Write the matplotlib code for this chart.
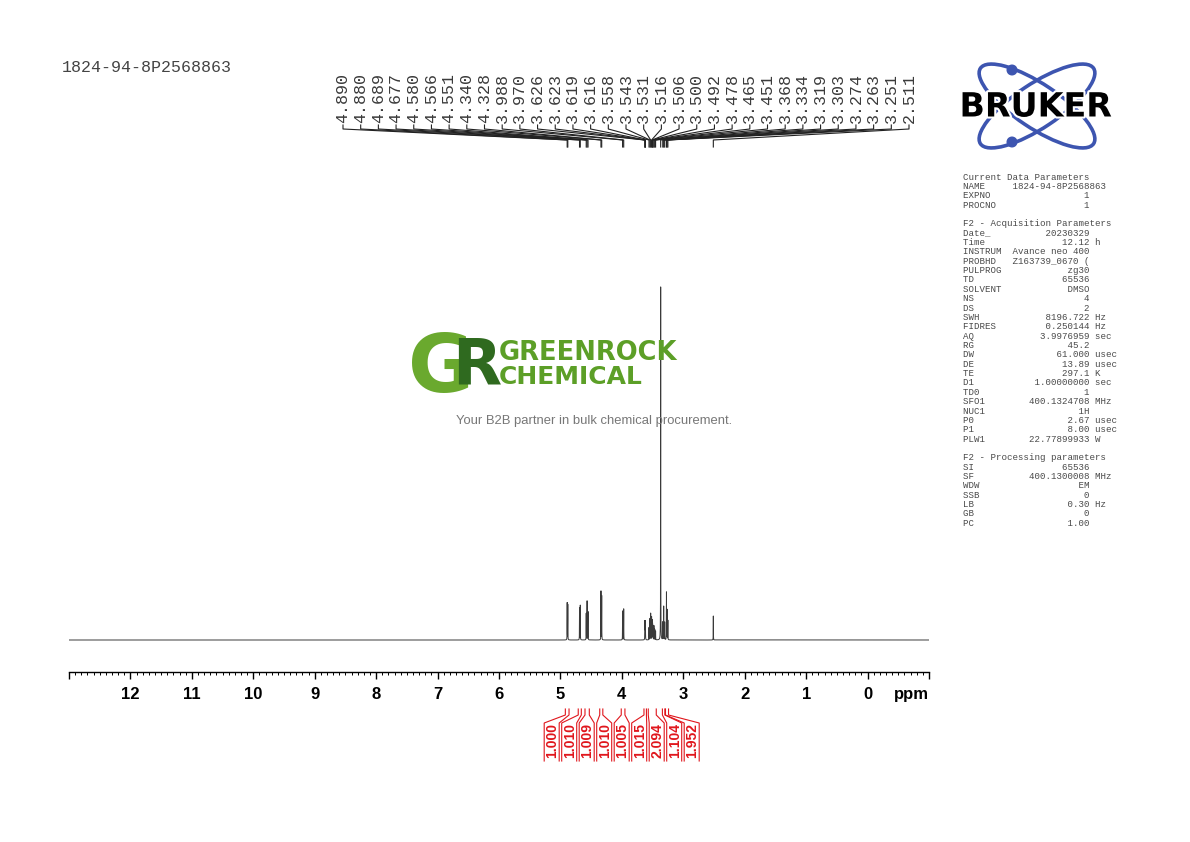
import numpy as np
import matplotlib
matplotlib.use("Agg")
import matplotlib.pyplot as plt
import matplotlib.patheffects as pe
from matplotlib.transforms import Affine2D
from matplotlib.patches import Ellipse, Circle
from matplotlib.ticker import FixedLocator, MultipleLocator, FuncFormatter

W, H = 1190, 842

sample_name = "1824-94-8P2568863"

# peak list (ppm) and relative heights
peak_ppm = [4.890, 4.880, 4.689, 4.677, 4.580, 4.566, 4.551, 4.340, 4.328,
            3.988, 3.970, 3.626, 3.623, 3.619, 3.616, 3.558, 3.543, 3.531,
            3.516, 3.506, 3.500, 3.492, 3.478, 3.465, 3.451, 3.368, 3.334,
            3.319, 3.303, 3.274, 3.263, 3.251, 2.511]
peak_height = [0.105, 0.100, 0.090, 0.098, 0.075, 0.110, 0.080, 0.138, 0.125,
               0.082, 0.088, 0.040, 0.045, 0.045, 0.040, 0.035, 0.060, 0.075,
               0.065, 0.055, 0.045, 0.040, 0.040, 0.030, 0.025, 1.000, 0.050,
               0.095, 0.050, 0.135, 0.085, 0.055, 0.068]

# integrals: value and region (ppm from, to)
int_values = [1.000, 1.010, 1.009, 1.010, 1.005, 1.015, 2.094, 1.104, 1.952]
int_from = [4.92, 4.71, 4.60, 4.36, 4.01, 3.64, 3.57, 3.34, 3.29]
int_to = [4.86, 4.66, 4.53, 4.31, 3.95, 3.60, 3.44, 3.30, 3.24]

axis_ticks = list(range(-1, 14))

# acquisition / processing parameters
params = [
    ("Current Data Parameters", None, None),
    ("NAME", sample_name, "name"),
    ("EXPNO", "1", ""),
    ("PROCNO", "1", ""),
    ("", None, None),
    ("F2 - Acquisition Parameters", None, None),
    ("Date_", "20230329", ""),
    ("Time", "12.12", "h"),
    ("INSTRUM", "Avance neo 400", ""),
    ("PROBHD", "Z163739_0670 (", ""),
    ("PULPROG", "zg30", ""),
    ("TD", "65536", ""),
    ("SOLVENT", "DMSO", ""),
    ("NS", "4", ""),
    ("DS", "2", ""),
    ("SWH", "8196.722", "Hz"),
    ("FIDRES", "0.250144", "Hz"),
    ("AQ", "3.9976959", "sec"),
    ("RG", "45.2", ""),
    ("DW", "61.000", "usec"),
    ("DE", "13.89", "usec"),
    ("TE", "297.1", "K"),
    ("D1", "1.00000000", "sec"),
    ("TD0", "1", ""),
    ("SFO1", "400.1324708", "MHz"),
    ("NUC1", "1H", ""),
    ("P0", "2.67", "usec"),
    ("P1", "8.00", "usec"),
    ("PLW1", "22.77899933", "W"),
    ("", None, None),
    ("F2 - Processing parameters", None, None),
    ("SI", "65536", ""),
    ("SF", "400.1300008", "MHz"),
    ("WDW", "EM", ""),
    ("SSB", "0", ""),
    ("LB", "0.30", "Hz"),
    ("GB", "0", ""),
    ("PC", "1.00", ""),
]

fig = plt.figure(figsize=(W / 100, H / 100), dpi=100)
fig.patch.set_facecolor("white")
# pixel coordinates measured from top-left corner
pix = Affine2D().scale(1 / W, -1 / H).translate(0, 1) + fig.transFigure

ax_left, ax_right, ax_top, ax_bot = 69, 929, 150, 672
base_px, tall_px = 640, 287
scale = base_px - tall_px
ax = fig.add_axes([ax_left / W, 1 - ax_bot / H, (ax_right - ax_left) / W, (ax_bot - ax_top) / H])
ymin = -(ax_bot - base_px) / scale
ax.set_xlim(13, -1)
ax.set_ylim(ymin, ymin + (ax_bot - ax_top) / scale)


def ppm_px(p):
    return ax_left + (13 - np.asarray(p)) / 14 * (ax_right - ax_left)


# spectrum from the peak list (lorentzian lines)
x = np.sort(np.concatenate([np.linspace(-1, 13, 40001), peak_ppm]))
y = np.zeros_like(x)
w = 0.0012
for p, h in zip(peak_ppm, peak_height):
    y += h * w**2 / ((x - p) ** 2 + w**2)
ax.plot(x, y, color="#3a3a3a", lw=0.7)

for s in ["top", "left", "right"]:
    ax.spines[s].set_visible(False)
ax.spines["bottom"].set_linewidth(1.0)
ax.set_yticks([])
ax.xaxis.set_major_locator(FixedLocator(axis_ticks))
ax.xaxis.set_minor_locator(MultipleLocator(0.1))
ax.xaxis.set_major_formatter(FuncFormatter(lambda v, _: "" if v < 0 or v > 12 else f"{v:.0f}"))
ax.tick_params(axis="x", which="major", direction="out", length=5, width=1.0, pad=6)
ax.tick_params(axis="x", which="minor", direction="out", length=2.5, width=0.7)
for lab in ax.get_xticklabels():
    lab.set_fontfamily("Liberation Sans")
    lab.set_fontweight("bold")
    lab.set_fontsize(12)
fig.text(float(ppm_px(-0.72)), 694, "ppm", transform=pix, ha="center", va="center",
         fontsize=12, fontweight="bold", family="Liberation Sans")

# peak labels along the top
lab_x = np.linspace(343, 909, len(peak_ppm))
for lx, p in zip(lab_x, peak_ppm):
    fig.text(lx, 123, f"{p:.3f}", transform=pix, rotation=90, ha="center", va="bottom",
             family="Liberation Mono", fontsize=12, color="#3a3a3a")
    px = float(ppm_px(p))
    fig.add_artist(plt.Line2D([lx, lx, px, px], [125, 129, 140, 147], transform=pix,
                              color="#222222", lw=0.8))

# integrals below the axis
int_lab_x = np.linspace(551.7, 691.7, len(int_values))
red = "#e0161c"
for v, a, b, lx in zip(int_values, int_from, int_to, int_lab_x):
    xa, xb = float(ppm_px(a)), float(ppm_px(b))
    fig.add_artist(plt.Line2D([xa, xa, lx - 7.5, lx - 7.5], [709, 715, 723, 761], transform=pix,
                              color=red, lw=0.8))
    fig.add_artist(plt.Line2D([xb, xb, lx + 7.5, lx + 7.5], [709, 715, 723, 761], transform=pix,
                              color=red, lw=0.8))
    fig.text(lx + 0.5, 758, f"{v:.3f}", transform=pix, rotation=90, ha="center", va="bottom",
             family="Liberation Sans", fontweight="bold", fontsize=10, color=red)

# sample name top-left
fig.text(62, 68, sample_name, transform=pix, ha="left", va="center",
         family="Liberation Mono", fontsize=12, color="#444444")

# parameter panel
py = 177
for name, val, unit in params:
    if val is None:
        line = name
    elif unit == "name":
        line = f"{name:<8} {val}"
    else:
        line = f"{name:<8}{val:>15}" + (f" {unit}" if unit else "")
    if line:
        fig.text(963, py, line, transform=pix, ha="left", va="center",
                 family="Liberation Mono", fontsize=6.6, color="#4a4a4a")
    py += 9.36

# Bruker logo
blue = "#3d55b0"
for ang in (33.7, -33.7):
    fig.add_artist(Ellipse((1037, 106), 136, 44, angle=ang, transform=pix, fill=False,
                           edgecolor=blue, lw=2.6))
fig.add_artist(Circle((1012, 70), 4.8, transform=pix, color=blue))
fig.add_artist(Circle((1012, 142), 4.8, transform=pix, color=blue))
fig.text(1036, 107, "BRUKER", transform=pix, ha="center", va="center",
         family="DejaVu Sans", fontweight="bold", fontsize=24, color="black",
         path_effects=[pe.withStroke(linewidth=3, foreground="white")])

# GreenRock watermark
fig.text(441, 370, "G", transform=pix, ha="center", va="center", family="DejaVu Sans",
         fontweight="bold", fontsize=58, color="#6aa92e")
fig.text(477, 366, "R", transform=pix, ha="center", va="center", family="DejaVu Sans",
         fontweight="bold", fontsize=46, color="#2f6a1f")
fig.text(499, 353, "GREENROCK", transform=pix, ha="left", va="center", family="DejaVu Sans",
         fontweight="bold", fontsize=18.5, color="#5c9f27")
fig.text(499, 377, "CHEMICAL", transform=pix, ha="left", va="center", family="DejaVu Sans",
         fontweight="bold", fontsize=18, color="#5c9f27")
fig.text(594, 421, "Your B2B partner in bulk chemical procurement.", transform=pix,
         ha="center", va="center", family="Liberation Sans", fontsize=9.35, color="#777777")

fig.savefig("out.png", dpi=100)
plt.close(fig)
